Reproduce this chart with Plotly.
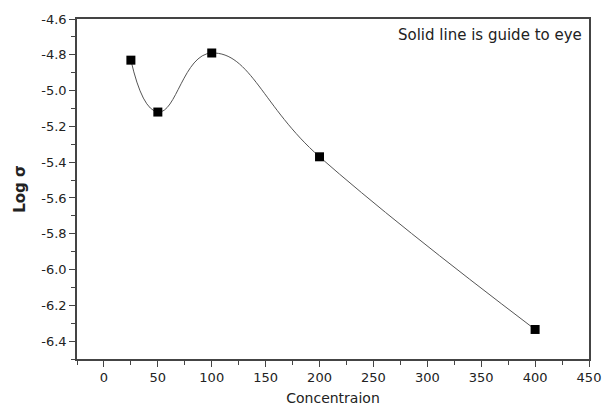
import plotly.graph_objects as go

concentration = [25, 50, 100, 200, 400]
log_sigma = [-4.83, -5.12, -4.79, -5.37, -6.335]

x_ticks = [0, 50, 100, 150, 200, 250, 300, 350, 400, 450]
y_ticks = [-6.4, -6.2, -6.0, -5.8, -5.6, -5.4, -5.2, -5.0, -4.8, -4.6]
y_tick_labels = ["-6.4", "-6.2", "-6.0", "-5.8", "-5.6", "-5.4", "-5.2", "-5.0", "-4.8", "-4.6"]

FONT = "DejaVu Sans, Liberation Sans, Arial"

fig = go.Figure()
fig.add_trace(go.Scatter(
    x=concentration, y=log_sigma, mode="lines",
    line=dict(shape="spline", smoothing=1.3, color="#555555", width=1),
    showlegend=False, hoverinfo="skip"))
fig.add_trace(go.Scatter(
    x=concentration, y=log_sigma, mode="markers",
    marker=dict(symbol="square", size=9, color="black"),
    showlegend=False))

axis_common = dict(
    showgrid=False, zeroline=False, showline=True, mirror=True, automargin=False,
    linecolor="#444444", linewidth=1.5, ticks="outside", ticklen=6,
    tickwidth=1.2, tickcolor="#444444",
    tickfont=dict(family=FONT, size=13, color="#222222"),
)

fig.update_layout(
    width=604, height=406,
    margin=dict(l=77, r=15, t=19, b=47),
    paper_bgcolor="white", plot_bgcolor="white",
    xaxis=dict(range=[-25, 450], tickvals=x_ticks,
               minor=dict(ticks="outside", ticklen=4, tickwidth=1, tickcolor="#444444", dtick=25),
               title=dict(text="Concentraion", standoff=12,
                          font=dict(family=FONT, size=14, color="#222222")),
               **axis_common),
    yaxis=dict(range=[-6.5, -4.6], tickvals=y_ticks, ticktext=y_tick_labels,
               minor=dict(ticks="outside", ticklen=4, tickwidth=1, tickcolor="#444444", dtick=0.1),
               title=dict(text="<b>Log σ</b>", standoff=12,
                          font=dict(family=FONT, size=15, color="#222222")),
               **axis_common),
    annotations=[dict(
        text="Solid line is guide to eye", xref="paper", yref="paper",
        x=0.99, y=0.985, xanchor="right", yanchor="top", showarrow=False,
        font=dict(family=FONT, size=15, color="#222222"))],
)

fig.write_html("out.html")
